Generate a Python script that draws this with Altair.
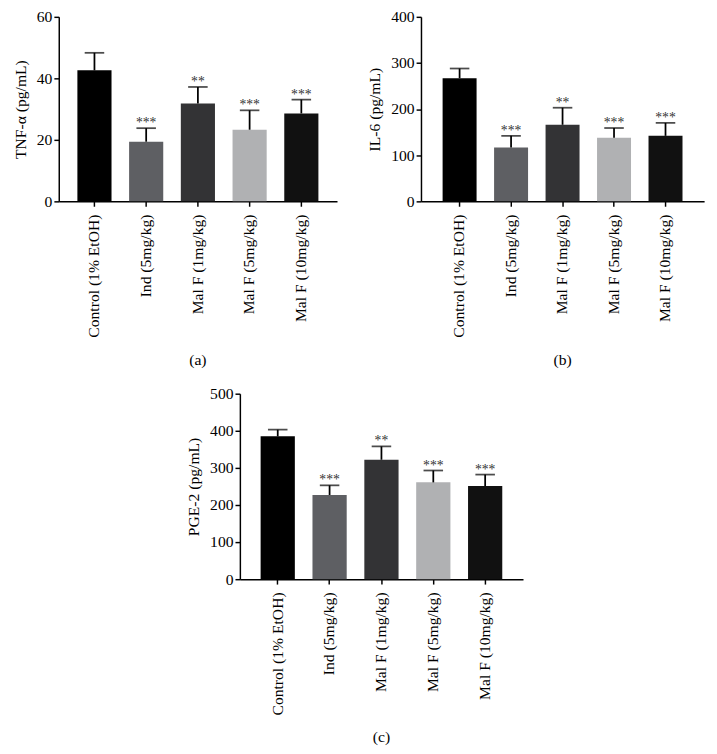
import altair as alt
import pandas as pd

groups = ["Control (1% EtOH)", "Ind (5mg/kg)", "Mal F (1mg/kg)", "Mal F (5mg/kg)", "Mal F (10mg/kg)"]
colors = ["#000000", "#5e5f63", "#333335", "#b0b1b3", "#111111"]
stars = ["", "***", "**", "***", "***"]

tnf_mean = [42.6, 19.4, 31.8, 23.3, 28.6]
tnf_sd = [5.7, 4.4, 5.4, 6.3, 4.5]
il6_mean = [267, 117, 166, 138, 142]
il6_sd = [21, 25, 37, 21, 28]
pge_mean = [385, 227, 322, 261, 251]
pge_sd = [18, 26, 36, 32, 31]

FONT = "Liberation Serif"


def panel(mean, sd, ytitle, ymax, ystep, caption, w, h, po):
    df = pd.DataFrame({
        "group": groups,
        "mean": mean,
        "top": [m + s for m, s in zip(mean, sd)],
        "star": stars,
    })
    x = alt.X("group:N", sort=groups,
              scale=alt.Scale(paddingInner=0.34, paddingOuter=po),
              axis=alt.Axis(title=None, labelAngle=270, labelPadding=8))
    ysc = alt.Scale(domain=[0, ymax], nice=False)
    yax = alt.Axis(title=ytitle, values=list(range(0, ymax + 1, ystep)), labelOverlap=False)
    base = alt.Chart(df)
    bars = base.mark_bar().encode(
        x=x,
        y=alt.Y("mean:Q", scale=ysc, axis=yax),
        color=alt.Color("group:N", scale=alt.Scale(domain=groups, range=colors), legend=None),
    )
    err = base.mark_rule(strokeWidth=1.8, color="black").encode(
        x=x, y=alt.Y("mean:Q", scale=ysc, axis=yax), y2="top:Q")
    cap = base.mark_tick(size=20, thickness=1.8, color="black").encode(
        x=x, y=alt.Y("top:Q", scale=ysc, axis=yax))
    txt = base.mark_text(baseline="alphabetic", dy=-1, fontSize=14, font=FONT, color="#333333").encode(
        x=x, y=alt.Y("top:Q", scale=ysc, axis=yax), text="star:N")
    return alt.layer(bars, err, cap, txt).properties(
        width=w, height=h,
        title=alt.TitleParams(caption, orient="bottom", anchor="middle", offset=15,
                              font=FONT, fontSize=16, fontWeight="normal", color="black"),
    )


a = panel(tnf_mean, tnf_sd, "TNF-α (pg/mL)", 60, 20, "(a)", 285, 189, 0.36)
b = panel(il6_mean, il6_sd, "IL-6 (pg/mL)", 400, 100, "(b)", 290, 189, 0.42)
c = panel(pge_mean, pge_sd, "PGE-2 (pg/mL)", 500, 100, "(c)", 290, 190, 0.40)

chart = alt.vconcat(
    alt.hconcat(a, b, spacing=31),
    c,
    spacing=18,
    center=True,
).properties(
    padding={"top": -8, "left": 5, "right": 5, "bottom": 0}
).configure_view(stroke=None).configure_axis(
    grid=False,
    domainColor="black", domainWidth=1.5,
    tickColor="black", tickWidth=1.5, tickSize=5,
    labelFont=FONT, labelFontSize=16, labelColor="black",
    titleFont=FONT, titleFontSize=16, titleFontWeight="normal", titleColor="black",
    titlePadding=8,
)

chart.save("out.html", embed_options={"renderer": "svg", "actions": False})
